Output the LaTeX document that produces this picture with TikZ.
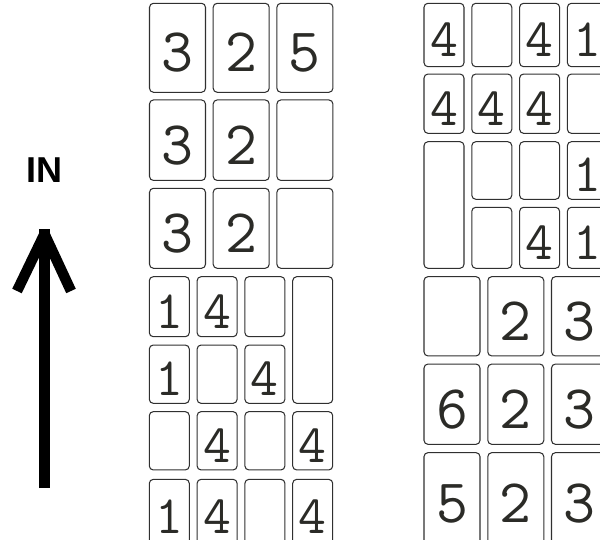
\documentclass[tikz,border=0pt]{standalone}
\usepackage{fontspec}
\newfontfamily\infont{Liberation Sans}
\definecolor{cardline}{HTML}{303030}
\definecolor{digit}{HTML}{2B2B27}

\tikzset{
  card/.style={draw=cardline, rounded corners=4pt, line width=1.05pt, inner sep=0pt,
    text=digit, text depth=0pt},
  wide/.style={card, minimum width=56pt, font=\ttfamily\fontsize{62}{62}\selectfont, text height=48pt},
  narrow/.style={card, minimum width=40pt, font=\ttfamily\fontsize{54}{54}\selectfont, text height=43pt},
  shaft/.style={line width=10.5pt, black},
}

\begin{document}
\begin{tikzpicture}[x=1pt, y=-1pt]
  \path[use as bounding box] (0,0) rectangle (600,540);
  \clip (0,0) rectangle (600,540);

  % arrow and label
  \node[font=\infont\bfseries\fontsize{36}{36}\selectfont] (in) at (44.5,170) {IN};
  \coordinate (tail) at (44.5,488);
  \coordinate (tip) at (44.5,229);
  \coordinate (head) at (44.5,234);
  \coordinate (barbl) at (17,291);
  \coordinate (barbr) at (71,291);
  \draw[shaft] (tail) -- (tip);
  \draw[shaft, line join=bevel] (barbl) -- (head) -- (barbr);

  % left stack
  \node[wide, minimum height=89pt] (l11) at (177.5,47.8) {3};
  \node[wide, minimum height=89pt] (l12) at (241.2,47.8) {2};
  \node[wide, minimum height=89pt] (l13) at (304.9,47.8) {5};
  \node[wide, minimum height=80.5pt] (l21) at (177.5,140.2) {3};
  \node[wide, minimum height=80.5pt] (l22) at (241.2,140.2) {2};
  \node[wide, minimum height=80.5pt] (l23) at (304.9,140.2) {};
  \node[wide, minimum height=80pt] (l31) at (177.5,228.3) {3};
  \node[wide, minimum height=80pt] (l32) at (241.2,228.3) {2};
  \node[wide, minimum height=80pt] (l33) at (304.9,228.3) {};
  \node[narrow, minimum height=60pt] (l41) at (169.3,306.7) {1};
  \node[narrow, minimum height=60pt] (l42) at (217.1,306.7) {4};
  \node[narrow, minimum height=60pt] (l43) at (264.9,306.7) {};
  \node[narrow, minimum height=126.6pt] (l44) at (312.7,340) {};
  \node[narrow, minimum height=58.3pt] (l51) at (169.3,374.2) {1};
  \node[narrow, minimum height=58.3pt] (l52) at (217.1,374.2) {};
  \node[narrow, minimum height=58.3pt] (l53) at (264.9,374.2) {4};
  \node[narrow, minimum height=58.3pt] (l61) at (169.3,440.8) {};
  \node[narrow, minimum height=58.3pt] (l62) at (217.1,440.8) {4};
  \node[narrow, minimum height=58.3pt] (l63) at (264.9,440.8) {};
  \node[narrow, minimum height=58.3pt] (l64) at (312.7,440.8) {4};
  \node[narrow, minimum height=65.7pt] (l71) at (169.3,512.2) {1};
  \node[narrow, minimum height=65.7pt] (l72) at (217.1,512.2) {4};
  \node[narrow, minimum height=65.7pt] (l73) at (264.9,512.2) {};
  \node[narrow, minimum height=65.7pt] (l74) at (312.7,512.2) {4};

  % right stack
  \node[narrow, minimum height=63.4pt] (r11) at (444,35) {4};
  \node[narrow, minimum height=63.4pt] (r12) at (491.8,35) {};
  \node[narrow, minimum height=63.4pt] (r13) at (539.6,35) {4};
  \node[narrow, minimum height=63.4pt] (r14) at (587.4,35) {1};
  \node[narrow, minimum height=59.3pt] (r21) at (444,103.7) {4};
  \node[narrow, minimum height=59.3pt] (r22) at (491.8,103.7) {4};
  \node[narrow, minimum height=59.3pt] (r23) at (539.6,103.7) {4};
  \node[narrow, minimum height=59.3pt] (r24) at (587.4,103.7) {};
  \node[narrow, minimum height=126.6pt] (r31) at (444,205) {};
  \node[narrow, minimum height=57.6pt] (r32) at (491.8,170.5) {};
  \node[narrow, minimum height=57.6pt] (r33) at (539.6,170.5) {};
  \node[narrow, minimum height=57.6pt] (r34) at (587.4,170.5) {1};
  \node[narrow, minimum height=61pt] (r42) at (491.8,237.8) {};
  \node[narrow, minimum height=61pt] (r43) at (539.6,237.8) {4};
  \node[narrow, minimum height=61pt] (r44) at (587.4,237.8) {1};
  \node[wide, minimum height=79.3pt] (r51) at (452,316.3) {};
  \node[wide, minimum height=79.3pt] (r52) at (515.8,316.3) {2};
  \node[wide, minimum height=79.3pt] (r53) at (579.5,316.3) {3};
  \node[wide, minimum height=80.3pt] (r61) at (452,404.2) {6};
  \node[wide, minimum height=80.3pt] (r62) at (515.8,404.2) {2};
  \node[wide, minimum height=80.3pt] (r63) at (579.5,404.2) {3};
  \node[wide, minimum height=92.3pt] (r71) at (452,498.8) {5};
  \node[wide, minimum height=92.3pt] (r72) at (515.8,498.8) {2};
  \node[wide, minimum height=92.3pt] (r73) at (579.5,498.8) {3};
\end{tikzpicture}
\end{document}
